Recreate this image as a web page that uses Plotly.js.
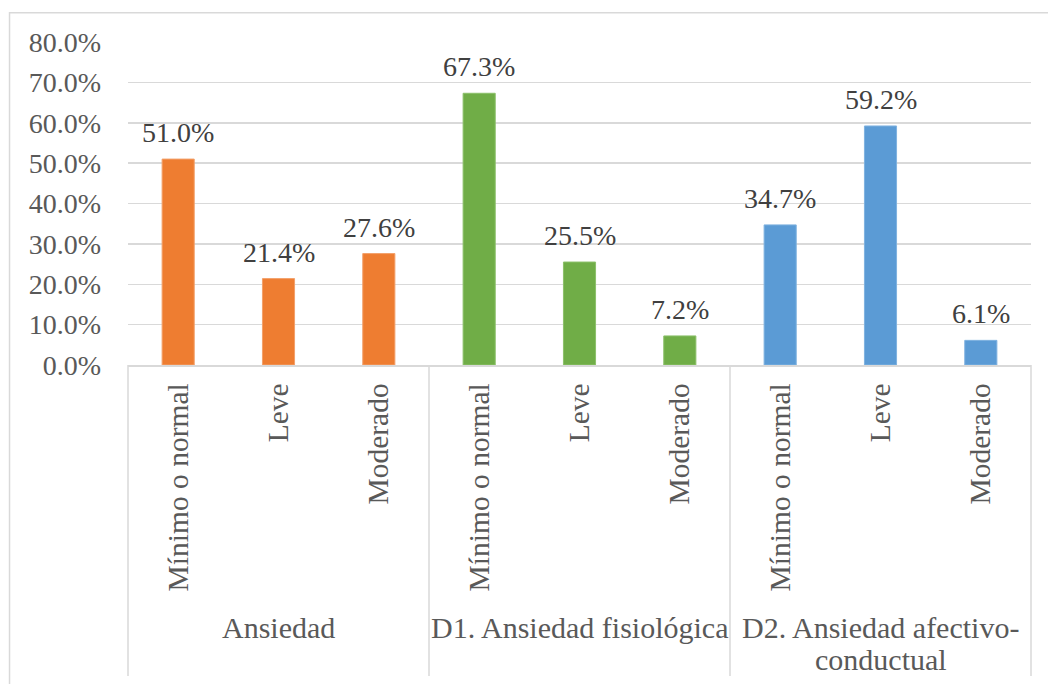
<!DOCTYPE html>
<html>
<head>
<meta charset="utf-8">
<script src="https://cdn.plot.ly/plotly-3.0.1.min.js"></script>
<style>html,body{margin:0;padding:0;background:#fff;}#chart{width:1048px;height:684px;}</style>
</head>
<body>
<div id="chart"></div>
<script>
// ---- data ----
var groups = ['Ansiedad', 'D1. Ansiedad fisiológica', 'D2. Ansiedad afectivo-<br>conductual'];
var levels = ['Mínimo o normal', 'Leve', 'Moderado'];
var ansiedad = [51.0, 21.4, 27.6];
var fisiologica = [67.3, 25.5, 7.2];
var afectivo = [34.7, 59.2, 6.1];
var yTicks = [0, 10, 20, 30, 40, 50, 60, 70, 80];

// ---- styles ----
var fills = ['#EE7D31', '#70AD47', '#5B9BD5'];
var edges = ['#F3A06A', '#8CC06A', '#7FB2E0'];
var FONT = 'Liberation Serif';
var series = [ansiedad, fisiologica, afectivo];

var xs = [], ys = [], tt = [], cols = [], lcols = [];
series.forEach(function (vals, g) {
  vals.forEach(function (v, i) {
    xs.push(g * levels.length + i);
    ys.push(v);
    tt.push(levels[i]);
    cols.push(fills[g]);
    lcols.push(edges[g]);
  });
});

var trace = {
  type: 'bar',
  x: xs,
  y: ys,
  width: 0.32,
  marker: {color: cols, line: {color: lcols, width: 1}},
  hoverinfo: 'skip'
};

var annotations = [];
xs.forEach(function (x, k) {
  annotations.push({
    x: x, y: ys[k], xref: 'x', yref: 'y',
    text: ys[k].toFixed(1) + '%',
    showarrow: false, xanchor: 'center', yanchor: 'bottom', yshift: 9,
    font: {family: FONT, size: 28, color: '#404040'}
  });
});
groups.forEach(function (g, i) {
  g.split('<br>').forEach(function (line, j) {
    annotations.push({
      x: (i + 0.5) / groups.length, xref: 'paper', xanchor: 'center',
      y: -0.8142 - j * 0.099, yref: 'paper', yanchor: 'middle',
      text: line, showarrow: false,
      font: {family: FONT, size: 30, color: '#595959'}
    });
  });
});

var shapes = [];
for (var s = 0; s <= groups.length; s++) {
  shapes.push({
    type: 'line', xref: 'paper', yref: 'paper',
    x0: s / groups.length, x1: s / groups.length, y0: 0, y1: -0.963,
    line: {color: '#D9D9D9', width: 1.5}
  });
}
// outer chart frame
shapes.push({
  type: 'rect', xref: 'paper', yref: 'paper',
  x0: -0.1312, x1: 1.2, y0: -1.2, y1: 1.0907,
  line: {color: '#D9D9D9', width: 1.5}, fillcolor: 'rgba(0,0,0,0)'
});

var layout = {
  width: 1048, height: 684,
  margin: {l: 128, r: 17, t: 42, b: 319},
  paper_bgcolor: '#ffffff', plot_bgcolor: '#ffffff',
  showlegend: false,
  bargap: 0.68,
  font: {family: FONT, size: 28, color: '#595959'},
  xaxis: {
    range: [-0.5, xs.length - 0.5],
    tickvals: xs, ticktext: tt, tickangle: -90,
    showgrid: false, zeroline: false,
    showline: true, linecolor: '#D9D9D9', linewidth: 1.5,
    ticks: '', ticklabelstandoff: 5,
    tickfont: {family: FONT, size: 29.5, color: '#595959'}
  },
  yaxis: {
    range: [0, 80],
    tickvals: yTicks,
    ticktext: yTicks.map(function (v) { return v.toFixed(1) + '%'; }),
    showgrid: true, gridcolor: '#D9D9D9', gridwidth: 1.5,
    zeroline: false, showline: false, ticks: '',
    ticklabelstandoff: 26,
    tickfont: {family: FONT, size: 28, color: '#595959'}
  },
  annotations: annotations,
  shapes: shapes
};

Plotly.newPlot('chart', [trace], layout, {displayModeBar: false, staticPlot: true});
</script>
</body>
</html>
